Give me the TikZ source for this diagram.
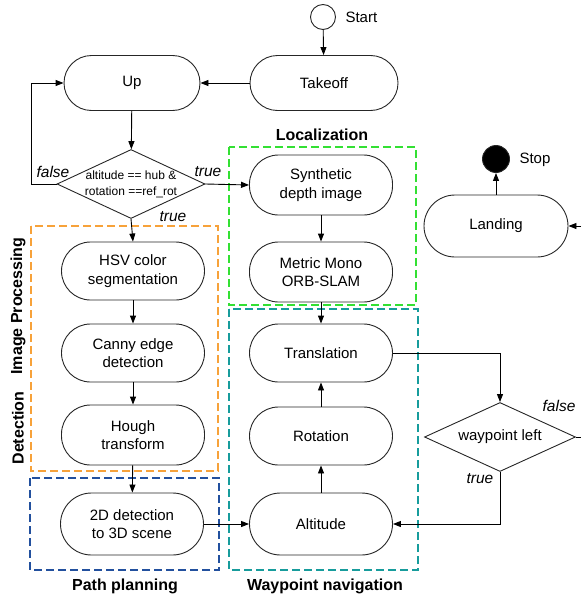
\documentclass[tikz,border=0pt]{standalone}
\usepackage{fontspec}
\setmainfont{Liberation Sans}
\usetikzlibrary{shapes.geometric,arrows.meta}
\definecolor{cgreen}{HTML}{33E033}
\definecolor{corange}{HTML}{F7A23A}
\definecolor{cblue}{HTML}{22509E}
\definecolor{cteal}{HTML}{179C9C}
\begin{document}
\begin{tikzpicture}[x=1pt,y=-1pt,
  proc/.style={draw=black!85, line width=0.9pt, rounded corners=29pt, minimum width=143pt, minimum height=60pt, align=center, inner sep=0pt, font=\fontsize{15}{18.5}\selectfont},
  dec/.style={draw=black!85, line width=0.9pt, diamond, inner sep=0pt},
  term/.style={draw=black!85, line width=0.9pt, circle, inner sep=0pt},
  arr/.style={line width=0.9pt, -{Triangle[length=8pt,width=6pt]}},
  ln/.style={line width=0.9pt},
  grp/.style={line width=2pt, dash pattern=on 8pt off 4pt},
  lab/.style={font=\fontsize{16}{19}\selectfont\bfseries},
  elab/.style={font=\fontsize{15.5}{18}\selectfont\itshape},
  txt/.style={font=\fontsize{15}{18}\selectfont}
]
\useasboundingbox (0,0) rectangle (581,597);

% group boxes
\draw[grp, cgreen] (229,147) rectangle (416,305);
\draw[grp, corange] (31,226) rectangle (218,471);
\draw[grp, cblue] (30,478) rectangle (219,570);
\draw[grp, cteal] (229,309) rectangle (418,570);

\node[lab] (lloc) at (322,135) {Localization};
\node[lab] (lpath) at (125,586) {Path planning};
\node[lab] (lway) at (325,586) {Waypoint navigation};
\node[lab, rotate=90] (limg) at (18,306) {Image Processing};
\node[lab, rotate=90] (ldet) at (18,428) {Detection};

% terminals
\node[term, minimum size=25pt] (start) at (323,17) {};
\node[txt, anchor=west] (starttxt) at (342,17) {Start};
\node[term, fill=black, minimum size=27pt] (stop) at (496,159) {};
\node[txt, anchor=west] (stoptxt) at (516,160) {Stop};

% process nodes
\node[proc, minimum width=148pt, minimum height=55pt, rounded corners=27.5pt] (takeoff) at (324,83) {Takeoff};
\node[proc, minimum width=136pt, minimum height=55pt, rounded corners=27.5pt] (up) at (132,83) {Up};
\node[proc] (synth) at (321,185) {Synthetic\\depth image};
\node[proc] (metric) at (321,272) {Metric Mono\\ORB-SLAM};
\node[proc, minimum height=58pt] (hsv) at (133,271) {HSV color\\segmentation};
\node[proc, minimum height=58pt] (canny) at (133,353) {Canny edge\\detection};
\node[proc] (hough) at (133,435) {Hough\\transform};
\node[proc, minimum height=62pt, rounded corners=31pt] (det) at (132,524) {2D detection\\to 3D scene};
\node[proc, minimum height=58pt] (trans) at (321,353) {Translation};
\node[proc, minimum height=58pt] (rot) at (321,436) {Rotation};
\node[proc, minimum height=62pt, rounded corners=31pt] (alt) at (321,524) {Altitude};
\node[proc, minimum width=144pt, minimum height=62pt, rounded corners=31pt] (land) at (496,226) {Landing};

% decisions
\node[dec, minimum width=148pt, minimum height=69pt] (d1) at (131,184) {};
\node[align=center, font=\fontsize{12}{16}\selectfont] (d1txt) at (d1) {altitude == hub \&\\rotation ==ref\_rot};
\node[dec, minimum width=151pt, minimum height=69pt] (wp) at (500,437) {};
\node[txt] (wptxt) at (wp) {waypoint left};

\coordinate (edgeA) at (581,437);
\coordinate (edgeB) at (581,226);

% connectors
\draw[arr] (start) -- (takeoff);
\draw[arr] (takeoff) -- (up);
\draw[arr] (up) -- (d1);
\draw[arr] (d1.west) -- ++(-25,0) |- (up.west);
\draw[arr] (d1.east) -- (synth.west);
\draw[arr] (d1.south) -- (hsv.north);
\draw[arr] (synth) -- (metric);
\draw[arr] (metric) -- (trans);
\draw[arr] (hsv) -- (canny);
\draw[arr] (canny) -- (hough);
\draw[arr] (hough) -- (det);
\draw[arr] (det) -- (alt);
\draw[arr] (alt) -- (rot);
\draw[arr] (rot) -- (trans);
\draw[arr] (trans.east) -| (wp.north);
\draw[arr] (wp.south) |- (alt.east);
\draw[ln] (wp.east) -- (edgeA);
\draw[arr] (edgeB) -- (land.east);
\draw[arr] (land) -- (stop);

% edge labels
\node[elab] (f1) at (53,172) {false};
\node[elab] (t1) at (208,172) {true};
\node[elab] (t2) at (173,217) {true};
\node[elab] (f2) at (559,406) {false};
\node[elab] (t3) at (480,479) {true};
\end{tikzpicture}
\end{document}
